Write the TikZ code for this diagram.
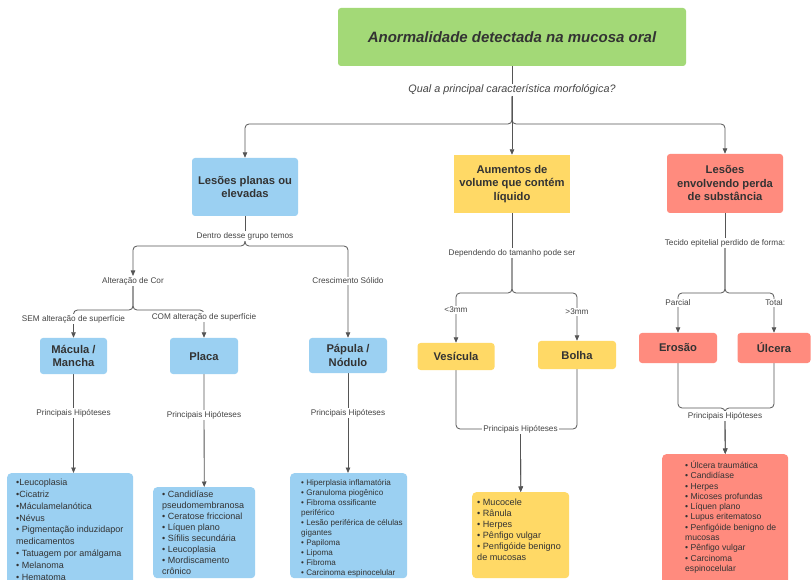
\documentclass[tikz,border=0pt]{standalone}
\usepackage{fontspec}
\setmainfont{Liberation Sans}
\usetikzlibrary{arrows.meta,backgrounds}
\definecolor{ink}{HTML}{333333}
\definecolor{labink}{HTML}{444444}
\definecolor{wire}{HTML}{555555}
\definecolor{cgreen}{HTML}{A3D977}
\definecolor{cblue}{HTML}{9BD0F2}
\definecolor{cyellow}{HTML}{FFD966}
\definecolor{cred}{HTML}{FF8B7E}
\newcommand\fsz[2]{\fontsize{#1}{#2}\selectfont}
\newcommand\lead{\rule{0pt}{9pt}}
\begin{document}
\begin{tikzpicture}[x=1pt,y=-1pt,
  box/.style={rounded corners=3pt, text=ink, align=center, inner sep=0pt,
    font=\fsz{11.2}{13.5}\bfseries},
  listbox/.style={rounded corners=4pt, anchor=north west, inner sep=0pt},
  listtxt/.style={anchor=north west, align=left, inner sep=0pt, text=ink},
  lbl/.style={fill=white, text=labink, inner xsep=1.5pt, inner ysep=1pt,
    font=\fsz{8.2}{10}},
  wirel/.style={draw=wire, line width=0.8pt, rounded corners=4pt},
  arr/.style={wirel, -{Triangle[length=5.5pt,width=4.5pt]}}
]
\useasboundingbox (0,0) rectangle (812,580);

% ---- root ----
\node[box, fill=cgreen, minimum width=348pt, minimum height=58pt,
  font=\fsz{15}{18}\bfseries\itshape] (t) at (512,37) {Anormalidade detectada na mucosa oral};
\node[lbl, font=\fsz{10.8}{13}\itshape] (q) at (512,90) {Qual a principal característica morfológica?};

% ---- three main groups ----
\node[box, fill=cblue, minimum width=106pt, minimum height=58pt] (b1) at (245,187) {Lesões planas ou\\elevadas};
\node[box, fill=cyellow, rounded corners=0pt, minimum width=116pt, minimum height=58pt] (y1) at (512,184) {Aumentos de\\volume que contém\\líquido};
\node[box, fill=cred, minimum width=116pt, minimum height=59pt] (r1) at (725,183.5) {Lesões\\envolvendo perda\\de substância};

% ---- flat / raised lesions ----
\node[lbl] (dentro) at (245,236) {Dentro desse grupo temos};
\node[lbl] (alt) at (133,281) {Alteração de Cor};
\node[lbl] (cres) at (348,281) {Crescimento Sólido};
\node[lbl] (sem) at (73.5,319) {SEM alteração de superfície};
\node[lbl] (com) at (204,317) {COM alteração de superfície};

\node[box, fill=cblue, minimum width=67pt, minimum height=36pt] (mac) at (73.5,356) {Mácula /\\Mancha};
\node[box, fill=cblue, minimum width=68pt, minimum height=36pt] (pla) at (204,356) {Placa};
\node[box, fill=cblue, minimum width=78pt, minimum height=35pt] (pap) at (348,355.5) {Pápula /\\Nódulo};

\node[lbl] (ph1) at (73.5,413) {Principais Hipóteses};
\node[lbl] (ph2) at (204,415) {Principais Hipóteses};
\node[lbl] (ph3) at (348,413) {Principais Hipóteses};

\node[listbox, fill=cblue, minimum width=126pt, minimum height=130pt] (macl) at (7,473) {};
\node[listtxt, font=\fsz{9}{11.8}] (macT) at (16,476.4)
  {\lead•Leucoplasia\\•Cicatriz\\•Máculamelanótica\\•Névus\\• Pigmentação induzidapor\\medicamentos\\• Tatuagem por amálgama\\• Melanoma\\• Hematoma};

\node[listbox, fill=cblue, minimum width=102pt, minimum height=91pt] (plal) at (153,487) {};
\node[listtxt, font=\fsz{9}{11}] (plaT) at (162,488.4)
  {\lead• Candidíase\\pseudomembranosa\\• Ceratose friccional\\• Líquen plano\\• Sífilis secundária\\• Leucoplasia\\• Mordiscamento\\crônico};

\node[listbox, fill=cblue, minimum width=117pt, minimum height=105pt] (papl) at (290,473) {};
\node[listtxt, font=\fsz{8.1}{10}] (papT) at (301,476.1)
  {\lead• Hiperplasia inflamatória\\• Granuloma piogênico\\• Fibroma ossificante\\periférico\\• Lesão periférica de células\\gigantes\\• Papiloma\\• Lipoma\\• Fibroma\\• Carcinoma espinocelular};

% ---- fluid-filled swellings ----
\node[lbl] (dep) at (512,253) {Dependendo do tamanho pode ser};
\node[lbl] (lt) at (456,310) {<3mm};
\node[lbl] (gt) at (577,312) {>3mm};
\node[box, fill=cyellow, minimum width=77pt, minimum height=27pt] (ves) at (456,356.5) {Vesícula};
\node[box, fill=cyellow, minimum width=78pt, minimum height=28pt] (bol) at (577,355) {Bolha};
\node[lbl] (ph4) at (520.5,429) {Principais Hipóteses};
\node[listbox, fill=cyellow, minimum width=97pt, minimum height=86pt] (yl) at (472,492) {};
\node[listtxt, font=\fsz{9.1}{11}] (ylT) at (477,496.4)
  {\lead• Mucocele\\• Rânula\\• Herpes\\• Pênfigo vulgar\\• Penfigóide benigno\\de mucosas};

% ---- loss of substance ----
\node[lbl] (tec) at (725,243) {Tecido epitelial perdido de forma:};
\node[lbl] (par) at (678,303) {Parcial};
\node[lbl] (tot) at (774,303) {Total};
\node[box, fill=cred, minimum width=78pt, minimum height=30pt] (ero) at (678,348) {Erosão};
\node[box, fill=cred, minimum width=73pt, minimum height=30pt] (ulc) at (774,348) {Úlcera};
\node[lbl] (ph5) at (725,416) {Principais Hipóteses};
\node[listbox, fill=cred, minimum width=126pt, minimum height=130pt] (rl) at (662,454) {};
\node[listtxt, font=\fsz{8.6}{10.3}] (rlT) at (685,459.2)
  {\lead• Úlcera traumática\\• Candidíase\\• Herpes\\• Micoses profundas\\• Líquen plano\\• Lupus eritematoso\\• Penfigóide benigno de\\mucosas\\• Pênfigo vulgar\\• Carcinoma\\espinocelular};

% ---- connectors (behind labels and boxes) ----
\begin{pgfonlayer}{background}
\fill[white] (0,0) rectangle (812,580);
% root split
\draw[arr] (t.south) -- (y1.north);
\draw[arr] (q.south) -- (512,124) -- (245,124) -- (b1.north);
\draw[arr] (q.south) -- (512,124) -- (725,124) -- (r1.north);
% flat / raised
\draw[wirel] (b1.south) -- (dentro.north);
\draw[arr] (dentro.south) -- (245,246) -- (133,246) -- (alt.north);
\draw[arr] (dentro.south) -- (245,246) -- (348,246) -- (pap.north);
\draw[arr] (alt.south) -- (133,310) -- (73.5,310) -- (mac.north);
\draw[arr] (alt.south) -- (133,310) -- (204,310) -- (pla.north);
\draw[arr] (mac.south) -- (mac.south |- macl.north);
\draw[arr] (pla.south) -- (plal.north);
\draw[arr] (pap.south) -- (pap.south |- papl.north);
% fluid-filled
\draw[wirel] (y1.south) -- (dep.north);
\draw[arr] (dep.south) -- (512,293) -- (456,293) -- (ves.north);
\draw[arr] (dep.south) -- (512,293) -- (577,293) -- (bol.north);
\draw[arr] (ves.south) -- (456,429) -- (520.5,429) -- (yl.north);
\draw[arr] (bol.south) -- (577,429) -- (520.5,429) -- (yl.north);
% loss of substance
\draw[wirel] (r1.south) -- (tec.north);
\draw[arr] (tec.south) -- (725,293) -- (678,293) -- (ero.north);
\draw[arr] (tec.south) -- (725,293) -- (774,293) -- (ulc.north);
\draw[arr] (ero.south) -- (678,408) -- (725,408) -- (rl.north);
\draw[arr] (ulc.south) -- (774,408) -- (725,408) -- (rl.north);
\end{pgfonlayer}
\end{tikzpicture}
\end{document}
